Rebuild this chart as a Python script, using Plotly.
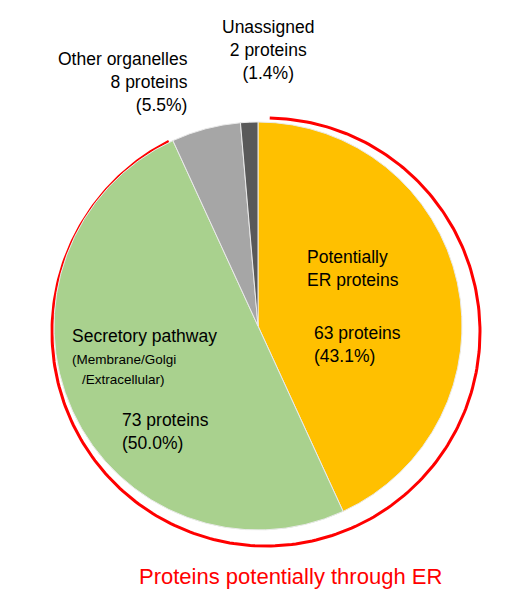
import numpy as np
import plotly.graph_objects as go

categories = ["Potentially ER proteins", "Secretory pathway", "Other organelles", "Unassigned"]
values = [63, 73, 8, 2]
colors = ["#FFC000", "#A9D18E", "#A6A6A6", "#595959"]

W, H = 519, 600
cx, cy, r = 258, 324, 204
fig = go.Figure()
fig.add_trace(go.Pie(labels=categories, values=values, sort=False, direction="clockwise",
                     rotation=0, textinfo="none", hoverinfo="label+value+percent",
                     marker=dict(colors=colors, line=dict(color="#EAEAEA", width=1)),
                     domain=dict(x=[(cx - 8 - r) / W, (cx - 8 + r) / W],
                                 y=[1 - (cy - 6 + r) / H, 1 - (cy - 6 - r) / H]),
                     showlegend=False))
# red arc outline
R = 214
th = np.radians(np.linspace(1, 333, 300))
fig.add_trace(go.Scatter(x=cx + R * np.sin(th), y=cy - R * np.cos(th), mode="lines",
                         line=dict(color="#FF0000", width=3), hoverinfo="skip", showlegend=False))

F = "Liberation Sans, Arial, sans-serif"
def ann(x, y, t, size=17.5, align="left", xanchor="left", color="black"):
    fig.add_annotation(x=x - 8, y=y, text=t, showarrow=False, xanchor=xanchor, yanchor="middle",
                       align=align, font=dict(family=F, size=size, color=color))

ann(305, 260, "Potentially<br>ER proteins")
ann(312, 336, "63 proteins<br>(43.1%)")
ann(70, 328, "Secretory pathway")
ann(70, 351, "(Membrane/Golgi", size=13.5)
ann(80, 371, "/Extracellular)", size=13.5)
ann(120, 423, "73 proteins<br>(50.0%)")
ann(190, 74, "Other organelles<br>8 proteins<br>(5.5%)", align="right", xanchor="right")
ann(268, 42, "Unassigned<br>2 proteins<br>(1.4%)", align="center", xanchor="center")
ann(290, 568, "Proteins potentially through ER", size=22, align="center", xanchor="center", color="#FF0000")

fig.update_layout(width=W, height=H, margin=dict(l=0, r=0, t=0, b=0),
                  paper_bgcolor="white", plot_bgcolor="white",
                  xaxis=dict(range=[0, W], visible=False, fixedrange=True),
                  yaxis=dict(range=[H, 0], visible=False, fixedrange=True))
fig.write_html("out.html")
